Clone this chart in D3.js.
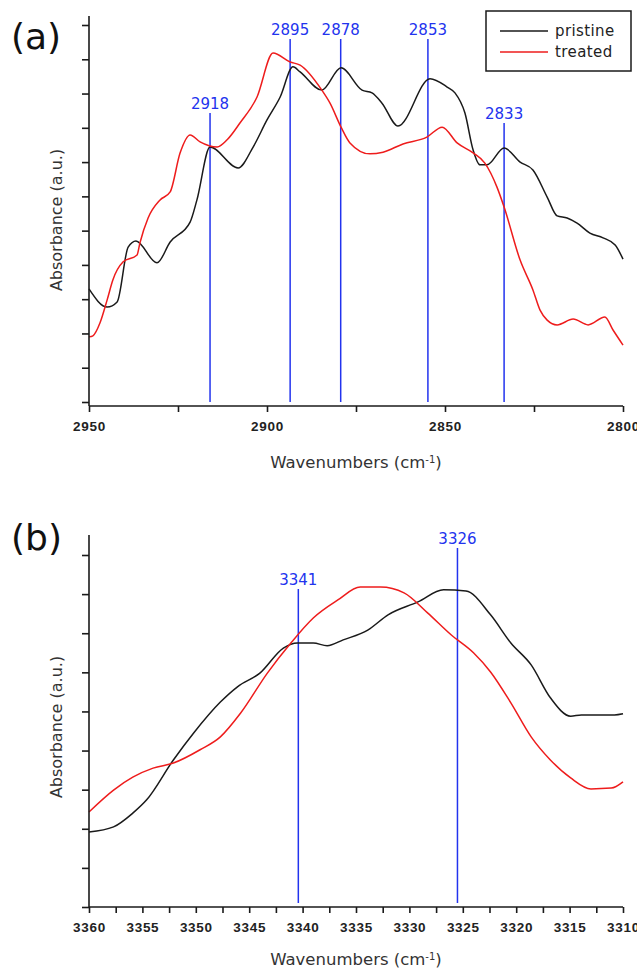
<!DOCTYPE html>
<html>
<head>
<meta charset="utf-8">
<script src="https://cdn.jsdelivr.net/npm/d3@7/dist/d3.min.js"></script>
<style>
	body { margin: 0; background: #fff; }
	svg { display: block; }
	text { font-family: "DejaVu Sans", Verdana, sans-serif; }
	.tick text { font-family: "Liberation Sans", Arial, sans-serif; font-weight: bold; font-size: 13.5px; fill: #222; letter-spacing: 0.7px; }
</style>
</head>
<body>
<div id="chart"></div>
<script>
// panel (a): C-H stretching region, [wavenumber, absorbance a.u.]
var pristineA = [
	[2950.0, 3.30], [2944.9, 2.77], [2942.1, 2.92], [2939.0, 4.52], [2936.8, 4.70],
	[2930.9, 4.06], [2927.2, 4.67], [2921.6, 5.25], [2919.7, 5.89], [2916.0, 7.44],
	[2908.1, 6.83], [2903.9, 7.44], [2900.0, 8.23], [2896.3, 8.90], [2892.7, 9.78],
	[2890.7, 9.63], [2884.6, 9.10], [2879.2, 9.75], [2873.3, 9.10], [2870.5, 9.02],
	[2867.7, 8.72], [2863.2, 8.05], [2854.2, 9.43], [2849.4, 9.19], [2847.2, 9.02],
	[2844.4, 8.43], [2842.1, 7.35], [2840.2, 6.92], [2838.2, 6.92], [2833.4, 7.41],
	[2828.9, 7.00], [2825.3, 6.77], [2821.3, 5.98], [2818.5, 5.43], [2815.7, 5.37],
	[2812.9, 5.22], [2809.3, 4.93], [2805.6, 4.79], [2802.2, 4.58], [2800.0, 4.17]
];
var treatedA = [
	[2950.0, 1.90], [2948.9, 1.93], [2946.9, 2.31], [2944.9, 2.98], [2943.3, 3.56],
	[2940.4, 4.09], [2936.5, 4.29], [2935.7, 4.64], [2933.4, 5.37], [2930.1, 5.89],
	[2927.2, 6.13], [2924.4, 7.27], [2921.6, 7.79], [2918.8, 7.59], [2914.0, 7.44],
	[2911.2, 7.65], [2907.6, 8.14], [2902.8, 8.90], [2898.3, 10.18], [2893.5, 9.92],
	[2890.7, 9.83], [2884.6, 9.10], [2882.3, 8.72], [2879.2, 8.02], [2876.7, 7.56],
	[2871.1, 7.24], [2867.4, 7.29], [2861.8, 7.53], [2855.1, 7.73], [2850.8, 8.02],
	[2846.6, 7.56], [2842.1, 7.27], [2838.8, 6.97], [2835.4, 6.27], [2833.4, 5.69],
	[2828.9, 4.14], [2825.3, 3.27], [2823.3, 2.68], [2821.3, 2.39], [2818.5, 2.25],
	[2814.0, 2.42], [2809.8, 2.25], [2805.1, 2.48], [2802.8, 2.10], [2800.0, 1.66]
];
var peaksA = [2916.0, 2893.5, 2879.3, 2854.8, 2833.4];
var peakLabelsA = ["2918", "2895", "2878", "2853", "2833"];
var peakTopsA = [8.43, 10.59, 10.59, 10.59, 8.14];

// panel (b): O-H / N-H region
var pristineB = [
	[3360.0, 1.92], [3357.7, 2.05], [3355.9, 2.40], [3354.6, 2.74], [3352.1, 3.76],
	[3350.2, 4.45], [3347.7, 5.24], [3346.1, 5.63], [3344.0, 5.98], [3341.8, 6.62],
	[3340.5, 6.75], [3339.0, 6.75], [3337.7, 6.68], [3336.2, 6.83], [3333.9, 7.08],
	[3332.0, 7.47], [3329.2, 7.80], [3326.8, 8.11], [3324.7, 8.08], [3322.4, 7.47],
	[3320.5, 6.75], [3318.6, 6.19], [3316.8, 5.35], [3314.9, 4.88], [3313.9, 4.91],
	[3310.8, 4.91], [3310.0, 4.94]
];
var treatedB = [
	[3360.0, 2.43], [3357.7, 2.99], [3355.9, 3.32], [3354.0, 3.55], [3352.1, 3.68],
	[3349.6, 4.02], [3347.7, 4.35], [3345.8, 4.96], [3343.3, 5.98], [3341.1, 6.75],
	[3339.0, 7.39], [3336.7, 7.85], [3334.6, 8.18], [3332.7, 8.18], [3330.5, 8.03],
	[3328.3, 7.52], [3326.1, 6.96], [3324.0, 6.50], [3322.4, 6.01], [3320.5, 5.22],
	[3318.6, 4.35], [3316.8, 3.76], [3314.9, 3.30], [3313.0, 3.02], [3311.1, 3.04],
	[3310.0, 3.20]
];
var peaksB = [3340.4, 3325.5];
var peakLabelsB = ["3341", "3326"];
var peakTopsB = [8.13, 9.18];

var seriesNames = ["pristine", "treated"];
var seriesColors = ["#1a1a1a", "#ee1c1c"];
var peakColor = "#2233ee";

var svg = d3.select("#chart").append("svg")
	.attr("width", 637)
	.attr("height", 969);

function drawPanel(p) {
	var g = svg.append("g");
	var x = d3.scaleLinear().domain(p.xDomain).range([89, 623]);
	var y = d3.scaleLinear().domain(p.yDomain).range(p.yRange);

	// peak markers
	p.peaks.forEach(function (wn, i) {
		g.append("line")
			.attr("x1", x(wn)).attr("x2", x(wn))
			.attr("y1", y(p.peakBottom)).attr("y2", y(p.peakTops[i]))
			.attr("stroke", peakColor)
			.attr("stroke-width", 1.5);
		g.append("text")
			.attr("x", x(wn))
			.attr("y", y(p.peakTops[i]) - 4)
			.attr("text-anchor", "middle")
			.attr("fill", peakColor)
			.style("font-size", "15px")
			.text(p.peakLabels[i]);
	});

	var line = d3.line()
		.x(function (d) { return x(d[0]); })
		.y(function (d) { return y(d[1]); })
		.curve(d3.curveMonotoneX);

	[p.pristine, p.treated].forEach(function (s, i) {
		g.append("path")
			.datum(s)
			.attr("d", line)
			.attr("fill", "none")
			.attr("stroke", seriesColors[i])
			.attr("stroke-width", 1.5);
	});

	// axes
	var xAxis = d3.axisBottom(x)
		.tickValues(p.xTicks)
		.tickSize(6)
		.tickPadding(9)
		.tickFormat(function (d) { return d % p.labelStep === 0 ? d : ""; });
	var gx = g.append("g")
		.attr("transform", "translate(0," + p.xAxisY + ")")
		.call(xAxis);
	gx.select(".domain").attr("d", "M89,0H623");

	var yAxis = d3.axisLeft(y)
		.tickValues(d3.range(p.yDomain[0], p.yDomain[1] + 1))
		.tickSize(7)
		.tickFormat("");
	var gy = g.append("g")
		.attr("transform", "translate(89,0)")
		.call(yAxis);
	gy.select(".domain").attr("d", "M0," + p.yAxisTop + "V" + p.xAxisY);

	g.selectAll(".domain, .tick line")
		.attr("stroke", "#1a1a1a")
		.attr("stroke-width", 1.6);

	// titles
	var xt = g.append("text")
		.attr("x", 356)
		.attr("y", p.xTitleY)
		.attr("text-anchor", "middle")
		.attr("fill", "#333")
		.style("font-size", "16.5px")
		.text("Wavenumbers (cm");
	xt.append("tspan").attr("baseline-shift", "super").style("font-size", "10px").text("-1");
	xt.append("tspan").text(")");

	g.append("text")
		.attr("transform", "translate(62," + p.yTitleY + ") rotate(-90)")
		.attr("text-anchor", "middle")
		.attr("fill", "#333")
		.style("font-size", "16px")
		.text("Absorbance (a.u.)");

	g.append("text")
		.attr("x", 11)
		.attr("y", p.tagY)
		.attr("fill", "#111")
		.style("font-size", "36px")
		.text(p.tag);
}

drawPanel({
	tag: "(a)", tagY: 49,
	xDomain: [2950, 2800], xTicks: d3.range(2950, 2799, -25), labelStep: 50,
	yDomain: [0, 11], yRange: [402, 25], yAxisTop: 16, xAxisY: 406,
	xTitleY: 468, yTitleY: 220,
	pristine: pristineA, treated: treatedA,
	peaks: peaksA, peakLabels: peakLabelsA, peakTops: peakTopsA, peakBottom: 0
});

drawPanel({
	tag: "(b)", tagY: 550,
	xDomain: [3360, 3310], xTicks: d3.range(3360, 3309, -2.5), labelStep: 5,
	yDomain: [0, 9], yRange: [907, 555], yAxisTop: 535, xAxisY: 907,
	xTitleY: 965, yTitleY: 727,
	pristine: pristineB, treated: treatedB,
	peaks: peaksB, peakLabels: peakLabelsB, peakTops: peakTopsB, peakBottom: 0.1
});

// legend
var legend = svg.append("g");
legend.append("rect")
	.attr("x", 486).attr("y", 11)
	.attr("width", 145).attr("height", 60)
	.attr("fill", "#fff")
	.attr("stroke", "#1a1a1a")
	.attr("stroke-width", 1.5);
seriesNames.forEach(function (name, i) {
	var ly = 31 + i * 21;
	legend.append("line")
		.attr("x1", 500).attr("x2", 548)
		.attr("y1", ly).attr("y2", ly)
		.attr("stroke", seriesColors[i])
		.attr("stroke-width", 1.5);
	legend.append("text")
		.attr("x", 555).attr("y", ly + 5)
		.attr("fill", "#222")
		.style("font-size", "15px")
		.style("letter-spacing", "0.4px")
		.text(name);
});
</script>
</body>
</html>
